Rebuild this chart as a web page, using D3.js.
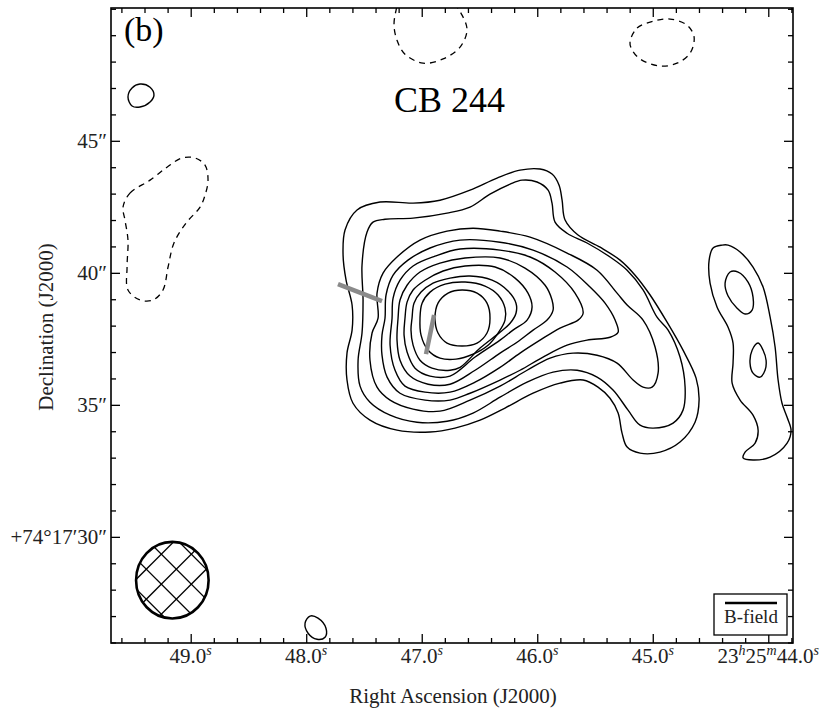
<!DOCTYPE html>
<html>
<head>
<meta charset="utf-8">
<title>CB 244 (b)</title>
<script src="https://d3js.org/d3.v7.min.js"></script>
<style>
  body { margin: 0; background: #fff; }
  svg text { font-family: "Liberation Serif", "DejaVu Serif", serif; fill: #222; }
</style>
</head>
<body>
<div id="vis"></div>
<script>
// field of view: RA in seconds of 23h25m, Dec in arcsec of +74d17m
var raRange = [49.69, 43.786];
var decRange = [25.98, 50.03];

var raMajor = [49, 48, 47, 46, 45, 44];
var raLabels = ["49.0s", "48.0s", "47.0s", "46.0s", "45.0s", "23h25m44.0s"];
var decMajor = [30, 35, 40, 45];
var decLabels = ["+74\u00b017\u203230\u2033", "35\u2033", "40\u2033", "45\u2033"];

// positive contours, [RA s, Dec arcsec], outermost first
var level1 = [[47.664,41.62],[47.560,42.38],[47.361,42.68],[47.075,42.64],[46.842,42.75],[46.582,43.13],[46.348,43.59],[46.149,43.89],[45.976,43.93],[45.872,43.74],[45.811,43.32],[45.785,42.75],[45.759,42.00],[45.647,41.43],[45.456,40.97],[45.283,40.48],[45.153,39.91],[45.023,39.16],[44.876,38.13],[44.738,37.07],[44.625,36.01],[44.599,35.18],[44.634,34.34],[44.764,33.59],[44.937,33.21],[45.110,33.17],[45.222,33.40],[45.266,33.93],[45.300,34.69],[45.370,35.25],[45.474,35.67],[45.603,35.94],[45.803,35.82],[46.036,35.44],[46.279,34.88],[46.495,34.42],[46.712,34.12],[46.928,33.97],[47.214,34.04],[47.448,34.42],[47.595,35.06],[47.647,35.94],[47.647,36.96],[47.603,37.83],[47.603,38.78],[47.655,39.72],[47.681,40.67]];
var level2 = [[47.474,41.54],[47.422,41.92],[47.318,42.03],[47.075,42.07],[46.781,42.26],[46.582,42.49],[46.409,42.98],[46.235,43.36],[46.132,43.51],[46.002,43.44],[45.906,43.13],[45.872,42.64],[45.846,41.92],[45.742,41.50],[45.569,41.13],[45.370,40.60],[45.222,40.10],[45.084,39.35],[44.963,38.32],[44.867,37.83],[44.764,36.81],[44.720,35.67],[44.738,34.80],[44.824,34.31],[44.997,34.12],[45.110,34.23],[45.214,34.80],[45.344,35.56],[45.482,36.05],[45.655,36.31],[45.863,36.24],[46.088,35.86],[46.322,35.29],[46.556,34.69],[46.781,34.38],[47.041,34.34],[47.274,34.61],[47.448,35.10],[47.534,35.71],[47.551,36.69],[47.517,37.72],[47.508,38.97],[47.517,40.29]];
var level3 = [[47.378,38.28],[47.387,39.23],[47.335,39.99],[47.214,40.60],[47.015,41.24],[46.781,41.58],[46.556,41.69],[46.322,41.58],[46.062,41.35],[45.742,40.75],[45.482,40.10],[45.309,39.23],[45.222,38.78],[45.084,38.21],[44.980,37.19],[44.954,36.20],[45.006,35.67],[45.084,35.67],[45.170,35.94],[45.309,36.58],[45.482,36.88],[45.690,36.96],[45.889,36.77],[46.088,36.31],[46.322,35.71],[46.582,35.18],[46.842,34.76],[47.075,34.84],[47.274,35.18],[47.387,35.67],[47.448,36.69],[47.430,37.72]];
var level4 = [[47.318,38.28],[47.309,39.16],[47.248,39.91],[47.119,40.48],[46.928,40.94],[46.668,41.24],[46.322,41.16],[46.036,40.86],[45.742,40.22],[45.543,39.46],[45.413,38.85],[45.326,38.21],[45.300,37.75],[45.370,37.56],[45.569,37.45],[45.742,37.26],[45.950,36.81],[46.149,36.31],[46.322,35.94],[46.582,35.44],[46.755,35.18],[46.971,35.18],[47.188,35.44],[47.300,36.05],[47.344,36.88],[47.344,37.64]];
var level5 = [[47.257,38.28],[47.248,39.04],[47.188,39.72],[47.075,40.26],[46.885,40.63],[46.668,40.90],[46.322,40.86],[46.062,40.60],[45.846,40.03],[45.673,39.23],[45.603,38.47],[45.647,38.21],[45.803,37.91],[45.976,37.45],[46.149,36.96],[46.322,36.42],[46.538,35.86],[46.755,35.48],[46.971,35.48],[47.145,35.71],[47.231,36.31],[47.274,37.26]];
var level6 = [[47.205,38.28],[47.188,38.97],[47.127,39.53],[47.015,40.03],[46.842,40.37],[46.625,40.56],[46.322,40.56],[46.106,40.18],[45.932,39.53],[45.872,38.97],[45.863,38.59],[45.915,38.21],[46.036,37.83],[46.175,37.37],[46.322,36.96],[46.538,36.31],[46.755,35.78],[46.945,35.78],[47.101,36.09],[47.188,36.69],[47.214,37.45]];
var level7 = [[47.145,38.28],[47.127,38.89],[47.075,39.35],[46.971,39.72],[46.815,40.07],[46.625,40.26],[46.365,40.22],[46.192,39.80],[46.080,39.23],[46.045,38.70],[46.088,38.21],[46.210,37.83],[46.322,37.45],[46.538,36.81],[46.755,36.09],[46.928,36.09],[47.058,36.39],[47.127,37.00],[47.153,37.64]];
var level8 = [[47.084,38.28],[47.067,38.85],[47.006,39.27],[46.902,39.61],[46.755,39.80],[46.582,39.88],[46.391,39.72],[46.253,39.31],[46.184,38.85],[46.184,38.47],[46.235,38.09],[46.322,37.75],[46.495,37.15],[46.668,36.42],[46.755,36.31],[46.911,36.39],[47.015,36.69],[47.075,37.26],[47.093,37.83]];
var level9 = [[47.015,38.28],[46.997,38.85],[46.928,39.27],[46.798,39.57],[46.625,39.65],[46.452,39.50],[46.339,39.16],[46.279,38.66],[46.279,38.21],[46.339,37.72],[46.426,37.26],[46.556,36.92],[46.703,36.73],[46.842,36.77],[46.945,37.07],[47.006,37.64]];
var level10 = [[46.885,38.28],[46.859,38.85],[46.772,39.23],[46.651,39.35],[46.521,39.23],[46.435,38.85],[46.409,38.28],[46.435,37.72],[46.521,37.34],[46.651,37.23],[46.781,37.34],[46.859,37.72]];

// eastern clump and small positive islands
var eastOuter = [[44.400,41.05],[44.478,40.94],[44.512,40.48],[44.504,39.61],[44.443,38.70],[44.348,37.94],[44.305,37.34],[44.305,36.58],[44.313,35.82],[44.244,35.18],[44.132,34.61],[44.088,34.04],[44.114,33.55],[44.201,33.21],[44.218,32.99],[44.132,32.91],[43.984,33.02],[43.837,33.55],[43.803,34.04],[43.837,34.53],[43.881,35.06],[43.915,35.94],[43.941,37.19],[43.984,38.32],[44.045,39.46],[44.132,40.22],[44.244,40.79],[44.348,41.05]];
var eastPeakN = [[44.331,40.03],[44.374,39.61],[44.348,39.12],[44.270,38.66],[44.201,38.44],[44.140,38.59],[44.132,39.08],[44.175,39.65],[44.261,40.03]];
var eastPeakS = [[44.088,37.34],[44.140,37.07],[44.158,36.58],[44.132,36.20],[44.071,36.05],[44.028,36.31],[44.019,36.69],[44.045,37.07]];
var blobNW = [[49.543,46.66],[49.508,47.00],[49.439,47.15],[49.352,47.03],[49.318,46.73],[49.352,46.47],[49.439,46.28],[49.508,46.32]];
var blobS = [[48.010,26.73],[47.967,27.00],[47.898,26.92],[47.829,26.54],[47.837,26.20],[47.906,26.12],[47.984,26.35]];

// negative contours
var negWest = [[49.586,42.49],[49.526,43.02],[49.352,43.51],[49.205,44.00],[49.075,44.35],[48.963,44.35],[48.876,44.08],[48.850,43.51],[48.876,42.94],[48.919,42.49],[49.041,41.88],[49.145,41.13],[49.196,40.22],[49.240,39.35],[49.326,38.97],[49.439,38.97],[49.543,39.35],[49.551,40.22],[49.543,41.24],[49.569,42.00]];
var negNorth = [[46.971,50.63],[47.188,50.44],[47.222,49.95],[47.240,49.38],[47.214,48.81],[47.145,48.28],[46.989,47.94],[46.815,48.10],[46.668,48.55],[46.608,49.19],[46.651,49.76],[46.738,50.25]];
var negNE = [[45.197,48.74],[45.136,49.27],[44.997,49.53],[44.850,49.61],[44.703,49.38],[44.642,48.93],[44.677,48.32],[44.790,47.94],[44.937,47.83],[45.110,48.10],[45.179,48.44]];

// B-field segments, endpoints [RA s, Dec arcsec]
var bSegments = [
  [[47.725,39.57],[47.344,38.93]],
  [[46.893,38.40],[46.963,36.92]]
];

// synthesized beam: centre and semi-axes
var beamCenter = [49.159, 28.36];
var beamHalfRA = 0.314;
var beamHalfDec = 1.45;

var solidContours = [level1, level2, level3, level4, level5, level6, level7, level8, level9, level10,
                     eastOuter, eastPeakN, eastPeakS, blobNW, blobS];
var dashedContours = [negWest, negNorth, negNE];

var plotLeft = 111, plotRight = 793, plotTop = 8, plotBottom = 643;

var svg = d3.select("#vis").append("svg")
  .attr("width", 831)
  .attr("height", 717);

var x = d3.scaleLinear().domain(raRange).range([plotLeft, plotRight]);
var y = d3.scaleLinear().domain(decRange).range([plotBottom, plotTop]);

svg.append("clipPath").attr("id", "frameClip")
  .append("rect")
  .attr("x", plotLeft).attr("y", plotTop)
  .attr("width", plotRight - plotLeft).attr("height", plotBottom - plotTop);

var contourLine = d3.line()
  .x(function(d){ return x(d[0]) })
  .y(function(d){ return y(d[1]) })
  .curve(d3.curveCatmullRomClosed.alpha(0.5));

var plot = svg.append("g").attr("clip-path", "url(#frameClip)");

plot.selectAll(".pos")
  .data(solidContours)
  .enter().append("path")
  .attr("class", "pos")
  .attr("d", contourLine)
  .attr("fill", "none")
  .attr("stroke", "#000")
  .attr("stroke-width", 1.4);

plot.selectAll(".neg")
  .data(dashedContours)
  .enter().append("path")
  .attr("class", "neg")
  .attr("d", contourLine)
  .attr("fill", "none")
  .attr("stroke", "#000")
  .attr("stroke-width", 1.3)
  .attr("stroke-dasharray", "6,5");

// B-field vectors
plot.selectAll(".bvec")
  .data(bSegments)
  .enter().append("line")
  .attr("class", "bvec")
  .attr("x1", function(d){ return x(d[0][0]) })
  .attr("y1", function(d){ return y(d[0][1]) })
  .attr("x2", function(d){ return x(d[1][0]) })
  .attr("y2", function(d){ return y(d[1][1]) })
  .attr("stroke", "#8a8a8a")
  .attr("stroke-width", 4.5);

// beam with cross hatching
var bx = x(beamCenter[0]), by = y(beamCenter[1]);
var brx = Math.abs(x(beamCenter[0] + beamHalfRA) - bx);
var bry = Math.abs(y(beamCenter[1] + beamHalfDec) - by);

svg.append("clipPath").attr("id", "beamClip")
  .append("ellipse")
  .attr("cx", bx).attr("cy", by).attr("rx", brx).attr("ry", bry);

var hatch = svg.append("g").attr("clip-path", "url(#beamClip)");
var step = 30, reach = 60;
d3.range(-3, 4).forEach(function(k){
  var c1 = (bx - by) + 15 + step * k;   // lines x - y = c1
  hatch.append("line")
    .attr("x1", by - reach + c1).attr("y1", by - reach)
    .attr("x2", by + reach + c1).attr("y2", by + reach)
    .attr("stroke", "#000").attr("stroke-width", 1.3);
  var c2 = (bx + by) - 7 + step * k;    // lines x + y = c2
  hatch.append("line")
    .attr("x1", c2 - (by - reach)).attr("y1", by - reach)
    .attr("x2", c2 - (by + reach)).attr("y2", by + reach)
    .attr("stroke", "#000").attr("stroke-width", 1.3);
});
svg.append("ellipse")
  .attr("cx", bx).attr("cy", by).attr("rx", brx).attr("ry", bry)
  .attr("fill", "none").attr("stroke", "#000").attr("stroke-width", 2.6);

// ticks on all four sides, pointing inwards
var raMinor = d3.range(43.8, 49.7, 0.2).map(function(v){ return Math.round(v * 10) / 10 })
  .filter(function(v){ return raMajor.indexOf(v) < 0 });
var decMinor = d3.range(26, 51, 1).filter(function(v){ return decMajor.indexOf(v) < 0 });

function ticks(axis, vals, size, tx, ty) {
  var g = svg.append("g")
    .attr("transform", "translate(" + tx + "," + ty + ")")
    .call(axis.tickValues(vals).tickSize(size).tickSizeOuter(0).tickFormat(""));
  g.select(".domain").remove();
  g.selectAll("line").attr("stroke", "#000").attr("stroke-width", 1.3);
}
ticks(d3.axisBottom(x), raMajor, -9, 0, plotBottom);
ticks(d3.axisBottom(x), raMinor, -5, 0, plotBottom);
ticks(d3.axisTop(x), raMajor, -9, 0, plotTop);
ticks(d3.axisTop(x), raMinor, -5, 0, plotTop);
ticks(d3.axisLeft(y), decMajor, -9, plotLeft, 0);
ticks(d3.axisLeft(y), decMinor, -5, plotLeft, 0);
ticks(d3.axisRight(y), decMajor, -9, plotRight, 0);
ticks(d3.axisRight(y), decMinor, -5, plotRight, 0);

svg.append("rect")
  .attr("x", plotLeft).attr("y", plotTop)
  .attr("width", plotRight - plotLeft).attr("height", plotBottom - plotTop)
  .attr("fill", "none").attr("stroke", "#000").attr("stroke-width", 1.6);

// RA tick labels with superscript units
raMajor.forEach(function(v, i){
  var t = svg.append("text")
    .attr("x", x(v)).attr("y", 663)
    .attr("text-anchor", "middle")
    .attr("font-size", 21);
  var parts = raLabels[i].match(/[\d.]+[hms]/g);
  parts.forEach(function(p, j){
    t.append("tspan").attr("dy", j == 0 ? 0 : 8).text(p.slice(0, -1));
    t.append("tspan").attr("dy", -8).attr("font-size", 14).attr("font-style", "italic").text(p.slice(-1));
  });
});

// Dec tick labels
svg.selectAll(".declab")
  .data(decMajor)
  .enter().append("text")
  .attr("class", "declab")
  .attr("x", 107)
  .attr("y", function(d){ return y(d) + 7 })
  .attr("text-anchor", "end")
  .attr("font-size", 21)
  .text(function(d, i){ return decLabels[i] });

// axis titles
svg.append("text")
  .attr("x", 453).attr("y", 703)
  .attr("text-anchor", "middle")
  .attr("font-size", 21)
  .text("Right Ascension (J2000)");

svg.append("text")
  .attr("transform", "translate(53,327) rotate(-90)")
  .attr("text-anchor", "middle")
  .attr("font-size", 21)
  .text("Declination (J2000)");

// panel tag and source name
svg.append("text")
  .attr("x", 124).attr("y", 41)
  .attr("font-size", 34)
  .style("fill", "#000")
  .text("(b)");

svg.append("text")
  .attr("x", 394).attr("y", 112)
  .attr("font-size", 36)
  .style("fill", "#000")
  .text("CB 244");

// legend
var leg = svg.append("g");
leg.append("rect")
  .attr("x", 714).attr("y", 594).attr("width", 73).attr("height", 41)
  .attr("fill", "#fff").attr("stroke", "#000").attr("stroke-width", 1.3);
leg.append("line")
  .attr("x1", 725).attr("x2", 777).attr("y1", 603).attr("y2", 603)
  .attr("stroke", "#000").attr("stroke-width", 2.6);
leg.append("text")
  .attr("x", 751).attr("y", 623)
  .attr("text-anchor", "middle")
  .attr("font-size", 19)
  .text("B-field");
</script>
</body>
</html>
